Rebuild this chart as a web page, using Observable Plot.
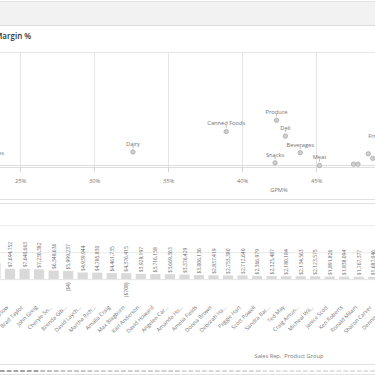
<!DOCTYPE html>
<html>
<head>
<meta charset="utf-8">
<script src="https://cdn.jsdelivr.net/npm/d3@7"></script>
<script src="https://cdn.jsdelivr.net/npm/@observablehq/plot@0.6"></script>
<style>
html,body{margin:0;padding:0;width:375px;height:375px;overflow:hidden;background:#fff;font-family:"Open Sans",sans-serif;}
#root{position:relative;width:375px;height:375px;overflow:hidden;}
.abs{position:absolute;}
.hline{position:absolute;left:0;width:375px;height:1px;background:#e2e2e2;}
.t{position:absolute;white-space:nowrap;color:#777;font-size:5.7px;line-height:1;}
</style>
</head>
<body>
<div id="root">
  <div class="abs" style="left:0;top:1px;width:375px;height:23px;background:#f2f2f2;border-top:1px solid #e3e3e3;border-bottom:1px solid #dadada;"></div>
  <div class="abs" style="left:-5px;top:32px;font-size:8px;font-weight:600;color:#333;line-height:1;white-space:nowrap;">Margin %</div>
  <div id="scatter" class="abs" style="left:0;top:40px;"></div>
  <div class="t" style="left:279px;top:188px;transform:translateX(-50%);">GPM%</div>
  <div class="hline" style="top:199px;"></div>
  <div id="bars" class="abs" style="left:-20px;top:200px;"></div>
  <div class="hline" style="top:203px;"></div>
  <div class="t" style="left:289px;top:354px;transform:translateX(-50%);">Sales Rep,&nbsp; Product Group</div>
  <div class="hline" style="top:364px;"></div>
  <div id="overview" class="abs" style="left:0;top:368px;"></div>
  <div class="hline" style="top:374px;"></div>
</div>
<script>
// ---- Scatter: product groups ----
const productGroups = ["Alcoholic Beverages","Dairy","Canned Foods","Produce","Deli","Beverages","Snacks","Meat","Seafood","Eggs","Starchy Foods","Baking Goods","Frozen Foods"];
const gpmPct  = [22.1, 32.6, 38.9, 42.3, 42.9, 43.9, 42.2, 45.2, 47.5, 47.8, 48.5, 48.8, 49.7];
const salesM  = [1.1, 3.6, 9.0, 12.0, 7.8, 3.4, 0.7, 0.0, 0.35, 0.35, 3.1, 1.9, 5.6];
const showLabel = [true,true,true,true,true,true,true,true,false,false,false,false,true];
const gpmTicks = [25,30,35,40,45];

// ---- Bars: sales reps ----
const salesReps = ["Sheila Blair","Judy Thurlow","Brad Taylor","John Greig","Cheryle Sn...","Brenda Gib...","David Laych...","Martha Rich...","Amalia Craig","Max Blagburn","Karl Anderson","David Howard","Angelen Car...","Amanda Ho...","Amelia Fields","Donna Brown","Deborah Ha...","Peggie Hart","Scott Powell","Sandra Bar...","Ted May","Craig Amun...","Micheal Wil...","Janice Scott","Ken Roberts","Ronald Milam","Sharon Carver","Dennis Joh..."];
const repSales = [11800000,7694752,7640663,7230382,6348636,5999237,4939944,4785830,4461735,4376415,3928197,3716158,3669363,3376429,3006136,2837419,2753380,2712640,2366979,2325487,2180184,2134563,2123575,1891826,1838094,1767377,1687046,1652000];
const repAdjust = [0,0,0,0,0,-4,0,0,0,-708,0,0,0,0,0,0,0,0,0,0,0,0,0,0,0,0,0,0];
const salesGrid = [20000000, 40000000];

// ---- Overview strip (mini map) ----
const overview = [9,9,9,9,9,9,6,6,6,5,5,5,5,5,4,4,4,4,4,4,4,4,4,4,4,4,4,3,3,3,3,3,3,3,3,3,3,3,3,2,2,2,2,2,2,2,2,2,2,2,2,2,2,2,2,2];

const font = '"Open Sans", sans-serif';

const scatterData = productGroups.map((g,i)=>({group:g, gpm:gpmPct[i], sales:salesM[i], labeled:showLabel[i]}));

const scatter = Plot.plot({
  width: 375, height: 160,
  marginLeft: 0, marginRight: 0, marginTop: 12, marginBottom: 33,
  style: {fontFamily: font, maxWidth: "none", overflow: "hidden", color: "#777", background: "transparent"},
  x: {domain: [23.649, 23.649 + 375/14.8]},
  y: {domain: [0, 30], insetBottom: 2, axis: null},
  marks: [
    Plot.gridX(gpmTicks, {stroke: "#e6e6e6", strokeOpacity: 1}),
    Plot.ruleY([30], {stroke: "#e6e6e6"}),
    Plot.ruleY([0], {stroke: "#dedede"}),
    Plot.ruleY([0], {stroke: "#dedede", dy: 2}),
    Plot.axisX(gpmTicks, {tickSize: 5, tickPadding: 6, tickFormat: d => d + "%", fontSize: 5.7, stroke: "#d4d4d4", fill: "#777", label: null}),
    Plot.ruleX(scatterData.filter(d => d.labeled), {x: "gpm", y1: d => d.sales + 0.9, y2: d => d.sales + 1.5, stroke: "#aaa", strokeWidth: 0.8}),
    Plot.dot(scatterData, {x: "gpm", y: "sales", r: 2.2, fill: "#cfcfcf", stroke: "#a9a9a9", strokeWidth: 0.8}),
    Plot.text(scatterData.filter(d => d.labeled), {x: "gpm", y: "sales", text: "group", dy: -8, fontSize: 5.7, fill: "#707070"})
  ]
});
document.getElementById("scatter").appendChild(scatter);

const barData = salesReps.map((r,i)=>({rep:r, sales:repSales[i], adj:repAdjust[i]}));
const money = d3.format("$,.0f");

const bars = Plot.plot({
  width: 440, height: 165,
  marginLeft: 0, marginRight: 0, marginTop: 3, marginBottom: 65,
  style: {fontFamily: font, maxWidth: "none", overflow: "hidden", color: "#777", background: "transparent"},
  x: {type: "band", domain: salesReps, range: [6.06, 417.3], padding: 0.3, align: 0.5, round: false},
  y: {domain: [-15500000, 55000000], range: [100, 5], axis: null},
  marks: [
    Plot.gridY(salesGrid, {stroke: "#ebebeb", strokeOpacity: 1}),
    Plot.barY(barData, {x: "rep", y: "sales", fill: "#d9d9d9"}),
    Plot.ruleY([0], {stroke: "#e4e4e4"}),
    Plot.text(barData, {x: "rep", y: "sales", text: d => money(d.sales), rotate: -90, textAnchor: "start", dy: -2, fontSize: 5, fill: "#666"}),
    Plot.text(barData.filter(d => d.adj < 0), {x: "rep", y: "adj", text: d => "(" + money(Math.abs(d.adj)) + ")", rotate: -90, textAnchor: "end", dy: 3, fontSize: 5, fill: "#666"}),
    Plot.axisX({tickRotate: -45, tickSize: 0, tickPadding: 6, dx: -3, fontSize: 5.5, fill: "#777", label: null})
  ]
});
document.getElementById("bars").appendChild(bars);

const ov = Plot.plot({
  width: 375, height: 5,
  marginLeft: 0, marginRight: 0, marginTop: 2, marginBottom: 1,
  style: {maxWidth: "none", overflow: "hidden", background: "transparent"},
  x: {type: "band", domain: d3.range(overview.length), range: [0, 375], paddingInner: 0.3, paddingOuter: 0, align: 0, axis: null},
  color: {type: "linear", domain: [2, 9], range: ["#e2e2e2", "#a4a4a4"]},
  marks: [
    Plot.cell(overview, {x: (d, i) => i, fill: d => d})
  ]
});
document.getElementById("overview").appendChild(ov);
</script>
</body>
</html>
